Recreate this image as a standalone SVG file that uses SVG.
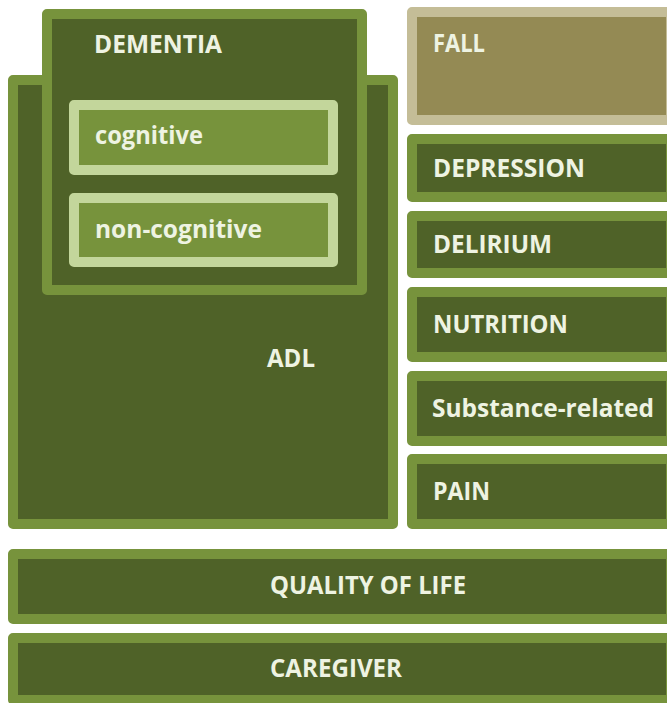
<svg xmlns="http://www.w3.org/2000/svg" width="667" height="703" viewBox="0 0 667 703">
  <style>
    .box { fill: #4f6228; stroke: #77933c; stroke-width: 10; stroke-linejoin: round; }
    .sub { fill: #77933c; stroke: #c3d69b; stroke-width: 10; stroke-linejoin: round; }
    .fall { fill: #948a54; stroke: #c4bd97; stroke-width: 10; stroke-linejoin: round; }
    .lbl { font-family: "Open Sans", "Noto Sans", "Liberation Sans", sans-serif; font-weight: bold; font-size: 25px; fill: #eef3e2; }
  </style>
  <rect x="0" y="0" width="667" height="703" fill="#ffffff"/>
  <g id="adl">
    <rect class="box" x="13" y="80" width="380" height="444"/>
    <text class="lbl" x="267" y="367" textLength="48" lengthAdjust="spacingAndGlyphs">ADL</text>
  </g>
  <g id="dementia">
    <rect class="box" x="47" y="14" width="315" height="276"/>
    <text class="lbl" x="94" y="53" textLength="128" lengthAdjust="spacingAndGlyphs">DEMENTIA</text>
  </g>
  <g id="cognitive">
    <rect class="sub" x="74" y="105" width="259" height="65"/>
    <text class="lbl" x="95" y="144" textLength="108" lengthAdjust="spacingAndGlyphs">cognitive</text>
  </g>
  <g id="non-cognitive">
    <rect class="sub" x="74" y="198" width="259" height="64"/>
    <text class="lbl" x="95" y="238" textLength="167" lengthAdjust="spacingAndGlyphs">non-cognitive</text>
  </g>
  <g id="fall">
    <rect class="fall" x="412" y="12" width="259" height="108"/>
    <text class="lbl" x="433" y="52" textLength="52" lengthAdjust="spacingAndGlyphs">FALL</text>
  </g>
  <g id="depression">
    <rect class="box" x="412" y="139" width="259" height="58"/>
    <text class="lbl" x="433" y="177" textLength="152" lengthAdjust="spacingAndGlyphs">DEPRESSION</text>
  </g>
  <g id="delirium">
    <rect class="box" x="412" y="216" width="259" height="57"/>
    <text class="lbl" x="433" y="253" textLength="119" lengthAdjust="spacingAndGlyphs">DELIRIUM</text>
  </g>
  <g id="nutrition">
    <rect class="box" x="412" y="292" width="259" height="65"/>
    <text class="lbl" x="433" y="333" textLength="135" lengthAdjust="spacingAndGlyphs">NUTRITION</text>
  </g>
  <g id="substance-related">
    <rect class="box" x="412" y="376" width="259" height="65"/>
    <text class="lbl" x="432" y="417" textLength="222" lengthAdjust="spacingAndGlyphs">Substance-related</text>
  </g>
  <g id="pain">
    <rect class="box" x="412" y="459" width="259" height="65"/>
    <text class="lbl" x="433" y="500" textLength="57" lengthAdjust="spacingAndGlyphs">PAIN</text>
  </g>
  <g id="quality-of-life">
    <rect class="box" x="13" y="554" width="658" height="65"/>
    <text class="lbl" x="270" y="594" textLength="196" lengthAdjust="spacingAndGlyphs">QUALITY OF LIFE</text>
  </g>
  <g id="caregiver">
    <rect class="box" x="13" y="638" width="658" height="62"/>
    <text class="lbl" x="270" y="677" textLength="132" lengthAdjust="spacingAndGlyphs">CAREGIVER</text>
  </g>
  <g id="connectors"/>
</svg>
